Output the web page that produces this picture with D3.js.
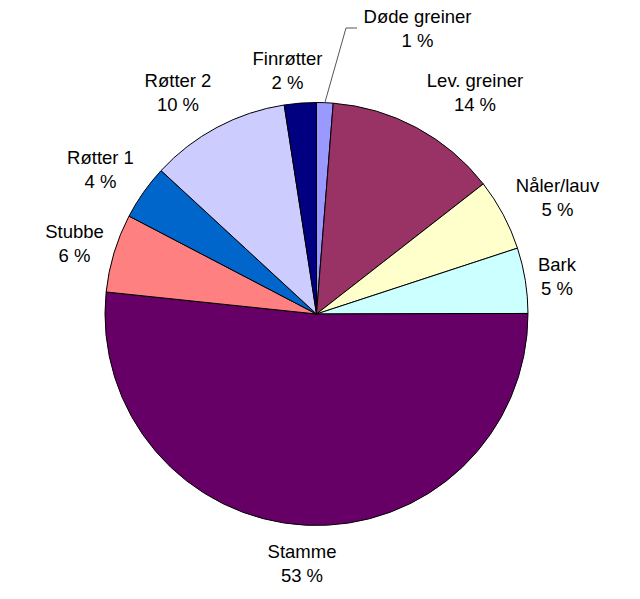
<!DOCTYPE html>
<html>
<head>
<meta charset="utf-8">
<script src="https://cdn.jsdelivr.net/npm/d3@7"></script>
<style>
  html, body { margin: 0; padding: 0; background: #fff; }
  text { font-family: "Liberation Sans", Arial, sans-serif; font-size: 18.5px; fill: #000; }
</style>
</head>
<body>
<svg id="chart" width="640" height="599"></svg>
<script>
// Categories in clockwise order starting at 12 o'clock
const categories = ["Døde greiner", "Lev. greiner", "Nåler/lauv", "Bark", "Stamme", "Stubbe", "Røtter 1", "Røtter 2", "Finrøtter"];
const shares = [1.26, 13.2, 5.5, 5.0, 51.7, 6.0, 4.2, 10.7, 2.44];
// Percent labels as printed on the chart
const pctLabels = ["1 %", "14 %", "5 %", "5 %", "53 %", "6 %", "4 %", "10 %", "2 %"];
const colors = ["#9999FF", "#993366", "#FFFFCC", "#CCFFFF", "#660066", "#FF8080", "#0066CC", "#CCCCFF", "#000080"];
// Label anchor positions (centre x, first baseline y)
const labelPos = [[417.5, 23], [475, 87], [557.5, 191.5], [557, 270.5], [302, 557.5], [74.5, 237.5], [100.5, 163.5], [178, 86.5], [287.5, 64.5]];

const svg = d3.select("#chart");
const cx = 316.5, cy = 314, r = 211.5;

const data = categories.map((c, i) => ({ name: c, value: shares[i], label: pctLabels[i], color: colors[i], pos: labelPos[i] }));

const pie = d3.pie().value(d => d.value).sort(null).startAngle(0).endAngle(2 * Math.PI);
const arc = d3.arc().innerRadius(0).outerRadius(r);

const g = svg.append("g").attr("transform", `translate(${cx},${cy})`);
const arcs = pie(data);
g.selectAll("path").data(arcs).enter().append("path")
  .attr("d", arc)
  .attr("fill", d => d.data.color)
  .attr("stroke", "#000")
  .attr("stroke-width", 1)
  .attr("stroke-linejoin", "round");

// Leader line for the small "Døde greiner" slice
const a0 = arcs[0];
const mid = (a0.startAngle + a0.endAngle) / 2;
const sx = cx + Math.sin(mid) * r, sy = cy - Math.cos(mid) * r;
svg.append("polyline")
  .attr("points", `${sx},${sy} ${346},${28} ${357},${28}`)
  .attr("fill", "none")
  .attr("stroke", "#555")
  .attr("stroke-width", 1);

const lab = svg.selectAll("g.lab").data(data).enter().append("g").attr("class", "lab");
lab.append("text")
  .attr("x", d => d.pos[0]).attr("y", d => d.pos[1])
  .attr("text-anchor", "middle")
  .text(d => d.name);
lab.append("text")
  .attr("x", d => d.pos[0]).attr("y", d => d.pos[1] + 24)
  .attr("text-anchor", "middle")
  .text(d => d.label);
</script>
</body>
</html>
